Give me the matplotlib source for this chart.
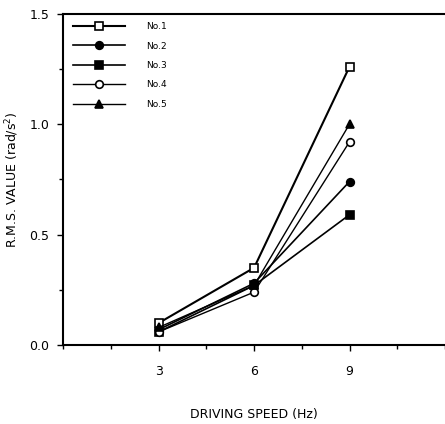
import matplotlib
matplotlib.use("Agg")
import matplotlib.pyplot as plt
from matplotlib.ticker import MultipleLocator

speeds = [3, 6, 9]
labels = ["No.1", "No.2", "No.3", "No.4", "No.5"]
no1 = [0.10, 0.35, 1.26]
no2 = [0.07, 0.28, 0.74]
no3 = [0.06, 0.27, 0.59]
no4 = [0.06, 0.24, 0.92]
no5 = [0.08, 0.27, 1.00]
series = [no1, no2, no3, no4, no5]
markers = ["s", "o", "s", "o", "^"]
faces = ["white", "black", "black", "white", "black"]
widths = [1.5, 1.2, 1.2, 1.0, 1.0]

fig = plt.figure(figsize=(4.45, 4.24), dpi=100)
ax = fig.add_axes([0.142, 0.186, 0.858, 0.782])

for vals, lab, m, fc, lw in zip(series, labels, markers, faces, widths):
    ax.plot(speeds, vals, color="black", lw=lw, marker=m, markersize=5.5,
            markerfacecolor=fc, markeredgecolor="black", markeredgewidth=1.2,
            label=lab)

ax.set_xlim(0, 12)
ax.set_ylim(0, 1.5)
ax.set_xticks([3, 6, 9])
ax.xaxis.set_minor_locator(MultipleLocator(1.5))
ax.set_yticks([0.0, 0.5, 1.0, 1.5])
ax.set_yticklabels(["0.0", "0.5", "1.0", "1.5"])
ax.yaxis.set_minor_locator(MultipleLocator(0.25))
ax.spines["right"].set_visible(False)
for s in ["left", "bottom", "top"]:
    ax.spines[s].set_linewidth(1.5)
ax.tick_params(axis="both", which="major", direction="out", length=4, width=1, labelsize=9, pad=6)
ax.tick_params(axis="both", which="minor", direction="out", length=3, width=1)
ax.tick_params(axis="x", pad=10)

ax.set_xlabel("DRIVING SPEED (Hz)", fontsize=9, labelpad=22)
ax.set_ylabel("R.M.S. VALUE (rad/s$\\mathregular{^2}$)", fontsize=9, labelpad=6)

leg = ax.legend(loc="upper left", bbox_to_anchor=(0.015, 0.985), frameon=False,
                fontsize=6.5, handlelength=5.8, handletextpad=2.4, labelspacing=1.15,
                borderaxespad=0)

fig.savefig("out.png", dpi=100)
